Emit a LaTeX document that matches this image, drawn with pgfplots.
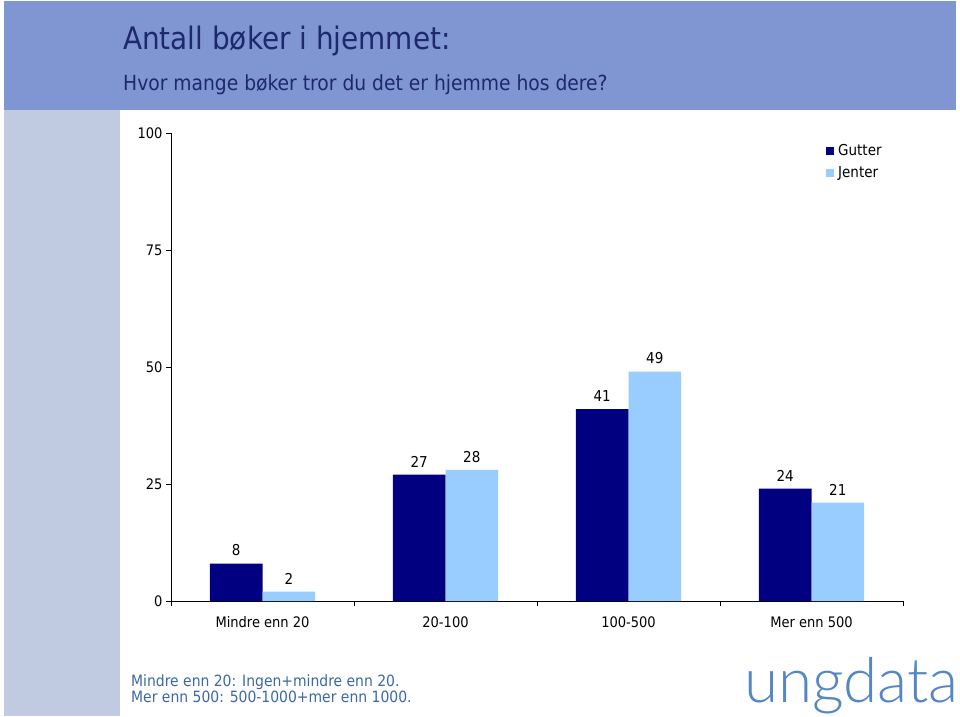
\documentclass[border=0pt]{standalone}
\usepackage{pgfplots}
\pgfplotsset{compat=1.18}
\usepackage{fontspec}
\setmainfont{DejaVu Sans Condensed}
\newfontfamily\logofont{Lato Light}
\definecolor{band}{RGB}{128,150,210}
\definecolor{sideband}{RGB}{192,202,224}
\definecolor{titlecol}{RGB}{30,40,110}
\definecolor{notecol}{RGB}{60,105,165}
\definecolor{logocol}{RGB}{85,135,195}
\definecolor{gutter}{RGB}{0,0,128}
\definecolor{jenter}{RGB}{153,204,255}
\begin{document}
\begin{tikzpicture}[x=1pt,y=1pt]
\fill[white] (0,0) rectangle (960,716);
\fill[band] (4,606) rectangle (956,715);
\fill[sideband] (4,0) rectangle (120,606);
\node[anchor=base west,text=titlecol,font=\fontsize{31}{34}\selectfont,inner sep=0] at (123,666) {Antall bøker i hjemmet:};
\node[anchor=base west,text=titlecol,font=\fontsize{20.8}{24}\selectfont,inner sep=0] at (123,625) {Hvor mange bøker tror du det er hjemme hos dere?};
\node[anchor=north west,text=notecol,font=\fontsize{15.5}{13.5}\selectfont,inner sep=0,align=left] at (131,41) {Mindre enn 20: Ingen+mindre enn 20.\\Mer enn 500: 500-1000+mer enn 1000.};
\node[anchor=base west,text=logocol,font=\logofont\fontsize{62}{62}\selectfont,inner sep=0] at (744,14) {ungdata};
\begin{axis}[
  at={(171pt,115pt)}, anchor=south west,
  scale only axis, width=732pt, height=468pt,
  xmin=0.5, xmax=4.5, ymin=0, ymax=100,
  axis lines*=left,
  axis line style={black, line width=0.8pt},
  ytick={0,25,50,75,100},
  xtick={1,2,3,4},
  xticklabels={Mindre enn 20,20-100,100-500,Mer enn 500},
  minor xtick={0.5,1.5,2.5,3.5,4.5},
  major x tick style={draw=none},
  tick align=outside,
  major tick length=5pt, minor tick length=5pt,
  tick style={black, line width=0.8pt},
  ticklabel style={font=\fontsize{14.5}{18}\selectfont},
  /pgf/number format/assume math mode=true,
  xticklabel style={yshift=-7pt},
  ybar=0pt, bar width=52.6pt,
  nodes near coords,
  every node near coord/.append style={font=\fontsize{15}{18}\selectfont, black, yshift=4pt},
  legend style={at={(0.89,0.985)}, anchor=north west, draw=none, fill=none, font=\fontsize{15}{18}\selectfont, row sep=6pt},
  legend cell align=left,
  legend image code/.code={\fill[#1] (0pt,-4pt) rectangle (8pt,4pt);},
]
\addplot[fill=gutter, draw=none] coordinates {(1,8) (2,27) (3,41) (4,24)};
\addplot[fill=jenter, draw=none] coordinates {(1,2) (2,28) (3,49) (4,21)};
\legend{\,Gutter,\,Jenter}
\end{axis}
\end{tikzpicture}
\end{document}
